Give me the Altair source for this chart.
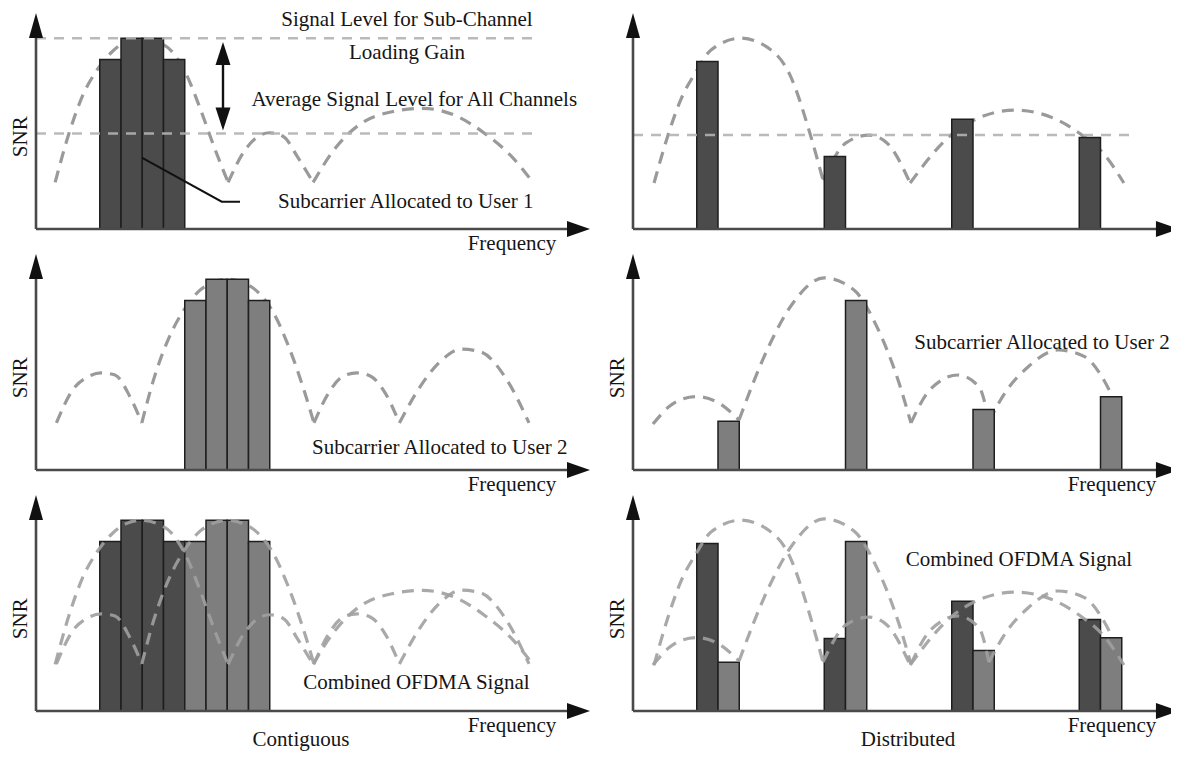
import altair as alt
import pandas as pd

# ---------------- values ----------------
# bars: first subcarrier index of each bar (bar width = 1 subcarrier) and its SNR
CONTIG_U1_START = [3, 4, 5, 6]
CONTIG_U1_SNR = [8.0, 9.0, 9.0, 8.0]
CONTIG_U2_START = [7, 8, 9, 10]
CONTIG_U2_SNR = [8.0, 9.0, 9.0, 8.0]
DIST_U1_START = [3, 9, 15, 21]
DIST_U1_SNR = [7.9, 3.42, 5.18, 4.32]
DIST_U2_START = [4, 10, 16, 22]
DIST_U2_SNR = [2.3, 8.0, 2.85, 3.45]

# dashed channel curves, one list per lobe (frequency in subcarriers, SNR)
CH_CONTIG_U1_FREQ = [
    [0.9, 1.55, 2.2, 2.87, 3.57, 4.27, 4.97, 5.67, 6.37, 7.07, 7.72, 8.37, 9.04],
    [9.04, 9.84, 10.56, 11.0, 11.66, 12.3, 13.04],
    [13.04, 14.02, 15.3, 16.75, 18.2, 19.67, 21.1, 22.4, 23.4],
]
CH_CONTIG_U1_SNR = [
    [2.2, 4.5, 6.3, 7.5, 8.35, 8.85, 9.0, 8.85, 8.4, 7.3, 5.7, 3.9, 2.2],
    [2.2, 3.73, 4.43, 4.54, 4.35, 3.41, 2.2],
    [2.2, 3.73, 4.98, 5.53, 5.69, 5.38, 4.52, 3.4, 2.18],
]
CH_CONTIG_U2_FREQ = [
    [0.96, 1.72, 2.45, 3.06, 3.72, 4.42, 4.98],
    [4.98, 5.53, 6.24, 6.93, 7.63, 8.33, 9.03, 9.73, 10.43, 11.13, 11.86, 12.56, 13.08],
    [13.08, 13.75, 14.45, 15.1, 15.75, 16.45, 17.1],
    [17.1, 18.19, 19.1, 20.0, 20.9, 22.16, 23.2],
]
CH_CONTIG_U2_SNR = [
    [2.22, 3.77, 4.4, 4.58, 4.48, 3.46, 2.22],
    [2.22, 4.25, 6.2, 7.5, 8.4, 8.85, 9.0, 8.85, 8.4, 7.5, 5.9, 3.93, 2.22],
    [2.22, 3.6, 4.42, 4.58, 4.42, 3.6, 2.22],
    [2.22, 4.1, 5.19, 5.7, 5.58, 4.25, 2.22],
]
CH_DIST_U1_FREQ = [
    [0.99, 1.65, 2.24, 2.96, 3.67, 5.08, 6.31, 7.39, 8.28, 8.94],
    [8.94, 10.02, 11.1, 11.95, 13.04],
    [13.04, 14.96, 16.05, 17.98, 19.76, 20.99, 22.2, 23.1],
]
CH_DIST_U1_SNR = [
    [2.17, 4.43, 6.08, 7.41, 8.44, 9.0, 8.58, 7.26, 4.67, 2.31],
    [2.31, 4.06, 4.43, 4.06, 2.17],
    [2.17, 4.43, 5.14, 5.61, 5.24, 4.53, 3.49, 2.17],
]
CH_DIST_U2_FREQ = [
    [0.94, 1.7, 2.2, 3.0, 4.0, 4.99],
    [4.99, 6.31, 7.53, 8.99, 10.4, 11.48, 12.52, 13.08],
    [13.08, 13.96, 15.29, 16.28, 16.75],
    [16.75, 17.5, 18.6, 20.0, 21.25, 21.96, 22.5],
]
CH_DIST_U2_SNR = [
    [2.17, 2.99, 3.3, 3.46, 3.18, 2.36],
    [2.36, 5.66, 7.88, 9.06, 8.49, 6.75, 4.1, 2.22],
    [2.22, 3.77, 4.48, 3.93, 2.3],
    [2.3, 3.63, 4.87, 5.66, 5.35, 4.57, 3.6],
]

# reference levels (dashed horizontal lines)
SUBCHANNEL_LEVEL = 9.0
AVG_LEVEL_CONTIG = 4.5
AVG_LEVEL_DIST = 4.43
LEVEL_END = 23.7

# text labels: panel, text, frequency position, SNR position
LABELS = [
    ("TL", "Signal Level for Sub-Channel", 17.46, 9.88),
    ("TL", "Loading Gain", 17.46, 8.3),
    ("TL", "Average Signal Level for All Channels", 17.8, 6.08),
    ("TL", "Subcarrier Allocated to User 1", 17.4, 1.27),
    ("ML", "Subcarrier Allocated to User 2", 19.0, 1.04),
    ("MR", "Subcarrier Allocated to User 2", 19.25, 5.99),
    ("BL", "Combined OFDMA Signal", 17.9, 1.33),
    ("BR", "Combined OFDMA Signal", 18.16, 7.12),
    ("BL", "Contiguous", 12.47, -1.37),
    ("BR", "Distributed", 12.94, -1.37),
]
FREQ_LABEL_PANELS = ["TL", "ML", "BL", "MR", "BR"]
FREQ_LABEL_POS = {"TL": 22.4, "ML": 22.4, "BL": 22.4, "MR": 22.54, "BR": 22.54}
SNR_LABEL_PANELS = ["TL", "ML", "BL", "MR", "BR"]

# ---------------- layout ----------------
PX_F = 21.25   # pixels per subcarrier
PX_S = 21.2    # pixels per SNR unit
PANELS = {"TL": (0, 0), "ML": (0, 1), "BL": (0, 2),
          "TR": (1, 0), "MR": (1, 1), "BR": (1, 2)}
COL_OFF = [0.0, 597 / PX_F]
ROW_OFF = [0.0, -241 / PX_S, -482 / PX_S]
AXIS_END = [25.1, 24.75]      # frequency-axis line end per column
ARROW_POS = [25.53, 25.15]    # frequency-axis arrowhead centre per column
W, H = 1163, 744
XMIN = -28 / PX_F
XMAX = XMIN + W / PX_F
YMAX = 221 / PX_S
YMIN = YMAX - H / PX_S


def gx(panel, f):
    return f + COL_OFF[PANELS[panel][0]]


def gy(panel, s):
    return s + ROW_OFF[PANELS[panel][1]]


# bars
bar_rows = []
BAR_SETS = [
    ("TL", "User 1", CONTIG_U1_START, CONTIG_U1_SNR),
    ("ML", "User 2", CONTIG_U2_START, CONTIG_U2_SNR),
    ("BL", "User 1", CONTIG_U1_START, CONTIG_U1_SNR),
    ("BL", "User 2", CONTIG_U2_START, CONTIG_U2_SNR),
    ("TR", "User 1", DIST_U1_START, DIST_U1_SNR),
    ("MR", "User 2", DIST_U2_START, DIST_U2_SNR),
    ("BR", "User 1", DIST_U1_START, DIST_U1_SNR),
    ("BR", "User 2", DIST_U2_START, DIST_U2_SNR),
]
for p, user, starts, snrs in BAR_SETS:
    for st, s in zip(starts, snrs):
        bar_rows.append({"user": user, "x": gx(p, st), "x2": gx(p, st + 1),
                         "y": gy(p, 0), "y2": gy(p, s)})
bars_df = pd.DataFrame(bar_rows)

# curves
CURVE_SETS = [
    ("TL", CH_CONTIG_U1_FREQ, CH_CONTIG_U1_SNR),
    ("ML", CH_CONTIG_U2_FREQ, CH_CONTIG_U2_SNR),
    ("BL", CH_CONTIG_U1_FREQ, CH_CONTIG_U1_SNR),
    ("BL", CH_CONTIG_U2_FREQ, CH_CONTIG_U2_SNR),
    ("TR", CH_DIST_U1_FREQ, CH_DIST_U1_SNR),
    ("MR", CH_DIST_U2_FREQ, CH_DIST_U2_SNR),
    ("BR", CH_DIST_U1_FREQ, CH_DIST_U1_SNR),
    ("BR", CH_DIST_U2_FREQ, CH_DIST_U2_SNR),
]
curve_rows = []
for k, (p, fl, sl) in enumerate(CURVE_SETS):
    for j, (fs, ss) in enumerate(zip(fl, sl)):
        for i, (f, s) in enumerate(zip(fs, ss)):
            curve_rows.append({"cid": f"{k}-{j}", "i": i, "x": gx(p, f), "y": gy(p, s),
                               "front": PANELS[p][1] == 2})
curves_df = pd.DataFrame(curve_rows)

# dashed reference levels
levels_df = pd.DataFrame([
    {"x": gx("TL", 0), "x2": gx("TL", LEVEL_END), "y": gy("TL", SUBCHANNEL_LEVEL)},
    {"x": gx("TL", 0), "x2": gx("TL", LEVEL_END), "y": gy("TL", AVG_LEVEL_CONTIG)},
    {"x": gx("TR", 0), "x2": gx("TR", LEVEL_END), "y": gy("TR", AVG_LEVEL_DIST)},
])

# axes with arrowheads
axis_rows, head_rows = [], []
for p, (c, r) in PANELS.items():
    axis_rows.append({"x": gx(p, 0), "x2": gx(p, 0), "y": gy(p, 0), "y2": gy(p, 9.2)})
    axis_rows.append({"x": gx(p, 0), "x2": gx(p, AXIS_END[c]), "y": gy(p, 0), "y2": gy(p, 0)})
    head_rows.append({"x": gx(p, 0), "y": gy(p, 9.6), "dir": "up", "sz": 625})
    head_rows.append({"x": gx(p, ARROW_POS[c]), "y": gy(p, 0), "dir": "right", "sz": 529})
axes_df = pd.DataFrame(axis_rows)

# loading-gain double arrow and leader line (top-left panel)
GAIN_X = 8.8
head_rows.append({"x": gx("TL", GAIN_X), "y": gy("TL", 8.28), "dir": "up2", "sz": 529})
head_rows.append({"x": gx("TL", GAIN_X), "y": gy("TL", 5.19), "dir": "down2", "sz": 529})
heads_df = pd.DataFrame(head_rows)
shaft_df = pd.DataFrame([{"x": gx("TL", GAIN_X), "y": gy("TL", 5.3), "y2": gy("TL", 8.2)}])
LEADER_F = [5.0, 8.74, 9.6]
LEADER_S = [3.35, 1.29, 1.29]
leader_df = pd.DataFrame([{"i": i, "x": gx("TL", f), "y": gy("TL", s)}
                          for i, (f, s) in enumerate(zip(LEADER_F, LEADER_S))])

# texts
text_rows = [{"text": t, "x": gx(p, f), "y": gy(p, s)} for p, t, f, s in LABELS]
for p in FREQ_LABEL_PANELS:
    text_rows.append({"text": "Frequency", "x": gx(p, FREQ_LABEL_POS[p]), "y": gy(p, -0.7)})
texts_df = pd.DataFrame(text_rows)
snr_df = pd.DataFrame([{"text": "SNR", "x": gx(p, -0.72), "y": gy(p, 4.35)}
                       for p in SNR_LABEL_PANELS])

# ---------------- chart ----------------
XS = alt.Scale(domain=[XMIN, XMAX], nice=False, zero=False)
YS = alt.Scale(domain=[YMIN, YMAX], nice=False, zero=False)
X = alt.X("x:Q", scale=XS, axis=None)
Y = alt.Y("y:Q", scale=YS, axis=None)

DASH_CURVE = [12, 8]
curve_base = alt.Chart(curves_df).mark_line(
    strokeDash=DASH_CURVE, strokeWidth=3.2, color="#9a9a9a", interpolate="monotone"
).encode(x=X, y=Y, detail="cid:N", order="i:Q")
curves_back = curve_base.transform_filter("!datum.front")
curves_front = curve_base.transform_filter("datum.front").mark_line(
    strokeDash=DASH_CURVE, strokeWidth=3.2, color="#a0a0a0", interpolate="monotone",
    opacity=0.9)

bars = alt.Chart(bars_df).mark_rect(stroke="#1e1e1e", strokeWidth=1.5).encode(
    x=X, x2="x2:Q", y=Y, y2="y2:Q",
    color=alt.Color("user:N", scale=alt.Scale(domain=["User 1", "User 2"],
                                              range=["#4b4b4b", "#7e7e7e"]), legend=None),
)

levels = alt.Chart(levels_df).mark_rule(
    strokeDash=[10, 8], strokeWidth=2.5, color="#b3b3b3", opacity=0.9
).encode(x=X, x2="x2:Q", y=Y)

axes = alt.Chart(axes_df).mark_rule(strokeWidth=2.6, color="#4a4a4a").encode(
    x=X, x2="x2:Q", y=Y, y2="y2:Q")

heads = alt.Chart(heads_df).mark_point(filled=True, opacity=1, color="#111111",
                                       strokeWidth=0).encode(
    x=X, y=Y,
    shape=alt.Shape("dir:N", scale=alt.Scale(
        domain=["up", "right", "up2", "down2"],
        range=["M0,-1L0.56,1L-0.56,1Z", "M1,0L-1,0.7L-1,-0.7Z",
               "M0,-1L0.65,1L-0.65,1Z", "M0,1L0.65,-1L-0.65,-1Z"]), legend=None),
    size=alt.Size("sz:Q", scale=None),
)

shaft = alt.Chart(shaft_df).mark_rule(strokeWidth=2.4, color="#111111").encode(
    x=X, y=Y, y2="y2:Q")
leader = alt.Chart(leader_df).mark_line(strokeWidth=2, color="#111111").encode(
    x=X, y=Y, order="i:Q")

FONT = "Times New Roman, Liberation Serif, Tinos, DejaVu Serif, serif"
texts = alt.Chart(texts_df).mark_text(font=FONT, fontSize=21, color="#151515",
                                      align="center", baseline="middle").encode(
    x=X, y=Y, text="text:N")
snr_texts = alt.Chart(snr_df).mark_text(font=FONT, fontSize=21, color="#151515",
                                        align="center", baseline="middle",
                                        angle=270).encode(x=X, y=Y, text="text:N")

chart = alt.layer(
    curves_back, bars, curves_front, levels, axes, heads, shaft, leader, texts, snr_texts
).properties(
    width=W, height=H, padding=0,
    autosize=alt.AutoSizeParams(type="none"),
    background="white",
).configure_view(stroke=None)

chart.save("out.html", embed_options={"renderer": "svg", "actions": False})
